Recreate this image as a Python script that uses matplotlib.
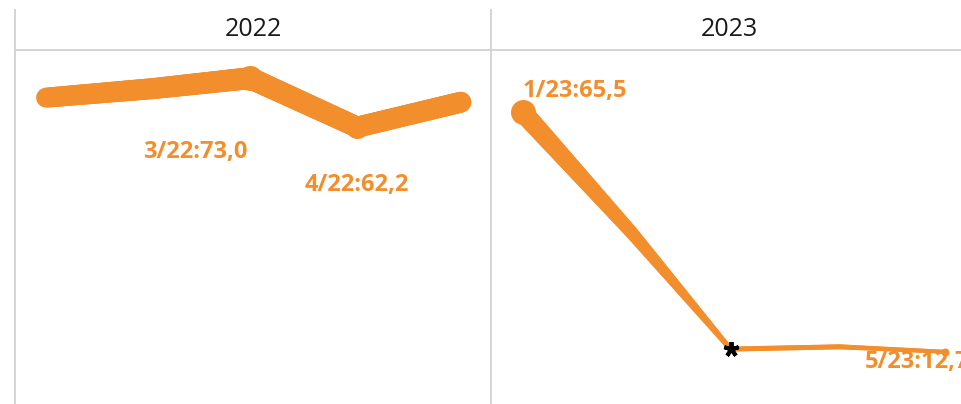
import numpy as np
import matplotlib
matplotlib.use("Agg")
import matplotlib.pyplot as plt
from matplotlib.collections import LineCollection
from matplotlib.lines import Line2D

plt.rcParams['font.family'] = ['Open Sans', 'DejaVu Sans']

# data: day offset of the first of each month, values per year
days = [0, 31, 59, 90, 120]
years = ["2022", "2023"]
values_2022 = [68.7, 70.7, 73.0, 62.2, 67.7]
values_2023 = [65.5, 38.9, 13.3, 13.8, 12.7]
labels_2022 = [None, None, "3/22:73,0", "4/22:62,2", None]
labels_2023 = ["1/23:65,5", None, None, None, "5/23:12,7"]
star_2023 = [False, False, True, False, False]

# line width (px) at each point, dot diameter (px) at labelled points
widths_2022 = [20, 21, 22, 21, 21]
widths_2023 = [20, 13, 5, 5, 4]
dots_2022 = [0, 0, 25, 23, 0]
dots_2023 = [25, 0, 0, 0, 8]
# label placement in pixels (dx, dy, ha) from the point
offsets_2022 = [None, None, (-55, -74, "center"), (0, -58, "center"), None]
offsets_2023 = [(0, 21, "left"), None, None, None, (-81, -10, "left")]

ORANGE = "#F28E2B"
GRID = "#d4d4d4"
W, H = 961, 404
PX2PT = 72 / 100


def tapered(ax, xs, ys, widths, n=40):
    segs, lws = [], []
    for i in range(len(xs) - 1):
        t = np.linspace(0, 1, n + 1)
        px = xs[i] + (xs[i + 1] - xs[i]) * t
        py = ys[i] + (ys[i + 1] - ys[i]) * t
        pw = widths[i] + (widths[i + 1] - widths[i]) * t
        for k in range(n):
            segs.append([(px[k], py[k]), (px[k + 1], py[k + 1])])
            lws.append(0.5 * (pw[k] + pw[k + 1]) * PX2PT)
    lc = LineCollection(segs, linewidths=lws, colors=ORANGE, capstyle="round",
                        joinstyle="round", zorder=2)
    ax.add_collection(lc)


fig = plt.figure(figsize=(W / 100, H / 100), dpi=100)
top = 50
panels = [
    (15, 476, values_2022, widths_2022, dots_2022, labels_2022, offsets_2022, None),
    (491, 485, values_2023, widths_2023, dots_2023, labels_2023, offsets_2023, star_2023),
]
for (left, width, vals, wid, dots, labs, offs, stars), year in zip(panels, years):
    ax = fig.add_axes([left / W, 0, width / W, (H - top) / H])
    ax.set_xlim(-9, 128.7)
    ax.set_ylim(1.2, 79.2)
    ax.axis("off")
    tapered(ax, days, vals, wid)
    for d, v, s in zip(days, vals, dots):
        if s:
            ax.plot(d, v, "o", ms=s * PX2PT, color=ORANGE, mec="none", zorder=3)
    for d, v, lab, off in zip(days, vals, labs, offs):
        if lab:
            ax.annotate(lab, (d, v), xytext=off[:2], textcoords="offset pixels",
                        ha=off[2], va="center", color=ORANGE, fontsize=17,
                        fontweight="bold", zorder=4, annotation_clip=False)
    if stars:
        for d, v, s in zip(days, vals, stars):
            if s:
                ax.plot(d, v, marker=(5, 2, 0), ms=15 * PX2PT, color="black",
                        mew=2.8, zorder=5)
    fig.text((left + 476 / 2) / W, 1 - 30 / H, year, ha="center", va="center",
             fontsize=18, color="#1a1a1a")

# header rule and panel borders
fig.add_artist(Line2D([15 / W, 1], [1 - top / H] * 2, color=GRID, lw=1.4))
for x in (15, 491):
    fig.add_artist(Line2D([x / W] * 2, [0, 1 - 10 / H], color=GRID, lw=1.4))

fig.savefig("out.png", dpi=100)
